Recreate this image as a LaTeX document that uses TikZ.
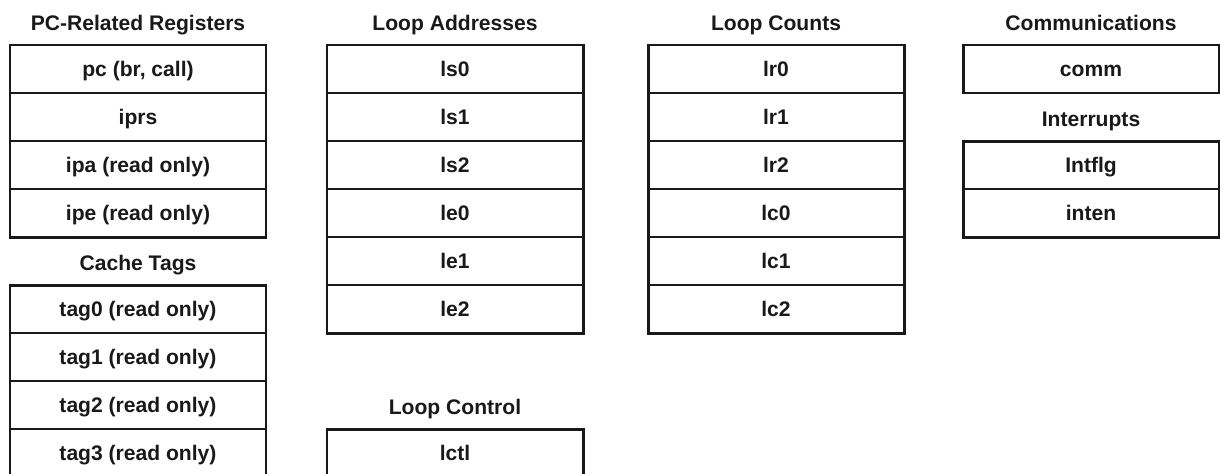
\documentclass[tikz,border=0pt]{standalone}
\usepackage{fontspec}
\setmainfont{Liberation Sans}
\usetikzlibrary{positioning}
\tikzstyle{cell} = [rectangle, draw, line width=0.6pt, outer sep=0pt, inner sep=0pt,
    minimum width=5.12cm, minimum height=0.96cm, text height=1.9ex, text depth=0.25ex,
    font=\fontsize{12}{14}\selectfont\bfseries]
\tikzstyle{title} = [inner sep=0pt, outer sep=0pt, text depth=0pt,
    font=\fontsize{12}{14}\selectfont\bfseries]
\tikzstyle{frame} = [draw, line width=1.7pt]

\begin{document}
\begin{tikzpicture}[node distance=0pt, color=black!90]
	\useasboundingbox (0,0) rectangle (24.4,-9.46);

	% PC-related registers
	\node [cell, anchor=north west] (pc) at (0.2,-0.9) {pc (br, call)};
	\node [cell, below=of pc] (iprs) {iprs};
	\node [cell, below=of iprs] (ipa) {ipa (read only)};
	\node [cell, below=of ipa] (ipe) {ipe (read only)};
	\node [title, above=0.29cm of pc] (pctitle) {PC-Related Registers};
	\draw [frame] (pc.north west) rectangle (ipe.south east);

	% cache tags
	\node [cell, below=0.96cm of ipe] (tag0) {tag0 (read only)};
	\node [cell, below=of tag0] (tag1) {tag1 (read only)};
	\node [cell, below=of tag1] (tag2) {tag2 (read only)};
	\node [cell, below=of tag2] (tag3) {tag3 (read only)};
	\node [title, above=0.29cm of tag0] (tagtitle) {Cache Tags};
	\draw [frame] (tag0.north west) rectangle (tag3.south east);

	% loop addresses
	\node [cell, right=1.22cm of pc] (ls0) {ls0};
	\node [cell, below=of ls0] (ls1) {ls1};
	\node [cell, below=of ls1] (ls2) {ls2};
	\node [cell, below=of ls2] (le0) {le0};
	\node [cell, below=of le0] (le1) {le1};
	\node [cell, below=of le1] (le2) {le2};
	\node [title, above=0.29cm of ls0] (addrtitle) {Loop Addresses};
	\draw [frame] (ls0.north west) rectangle (le2.south east);

	% loop control
	\node [cell, below=1.92cm of le2] (lctl) {lctl};
	\node [title, above=0.29cm of lctl] (ctltitle) {Loop Control};
	\draw [frame] (lctl.north west) rectangle (lctl.south east);

	% loop counts
	\node [cell, right=1.3cm of ls0] (lr0) {lr0};
	\node [cell, below=of lr0] (lr1) {lr1};
	\node [cell, below=of lr1] (lr2) {lr2};
	\node [cell, below=of lr2] (lc0) {lc0};
	\node [cell, below=of lc0] (lc1) {lc1};
	\node [cell, below=of lc1] (lc2) {lc2};
	\node [title, above=0.29cm of lr0] (counttitle) {Loop Counts};
	\draw [frame] (lr0.north west) rectangle (lc2.south east);

	% communications and interrupts
	\node [cell, right=1.18cm of lr0] (comm) {comm};
	\node [title, above=0.29cm of comm] (commtitle) {Communications};
	\draw [frame] (comm.north west) rectangle (comm.south east);

	\node [cell, below=0.96cm of comm] (intflg) {Intflg};
	\node [cell, below=of intflg] (inten) {inten};
	\node [title, above=0.29cm of intflg] (inttitle) {Interrupts};
	\draw [frame] (intflg.north west) rectangle (inten.south east);
\end{tikzpicture}
\end{document}
